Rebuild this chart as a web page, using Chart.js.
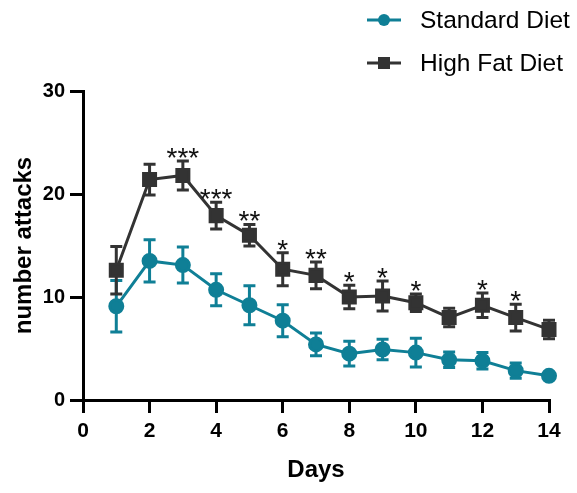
<!DOCTYPE html>
<html>
<head>
<meta charset="utf-8">
<script src="https://cdn.jsdelivr.net/npm/chart.js@4"></script>
<style>
  html, body { margin: 0; padding: 0; background: #fff; }
  #wrap { width: 577px; height: 493px; }
</style>
</head>
<body>
<div id="wrap"><canvas id="chart" width="577" height="493"></canvas></div>
<script>
var days = [1, 2, 3, 4, 5, 6, 7, 8, 9, 10, 11, 12, 13, 14];
var standardMean = [9.1, 13.5, 13.1, 10.7, 9.2, 7.7, 5.4, 4.5, 4.9, 4.6, 3.9, 3.8, 2.85, 2.35];
var standardErr = [2.5, 2.05, 1.75, 1.55, 1.9, 1.55, 1.1, 1.2, 1.0, 1.4, 0.75, 0.8, 0.75, 0.3];
var highFatMean = [12.6, 21.4, 21.8, 17.9, 16.0, 12.7, 12.1, 10.0, 10.1, 9.45, 8.0, 9.2, 8.0, 6.85];
var highFatErr = [2.3, 1.5, 1.4, 1.3, 1.05, 1.6, 1.3, 1.15, 1.45, 0.85, 0.9, 1.2, 1.3, 0.9];
var stars = ['', '', '***', '***', '**', '*', '**', '*', '*', '*', '', '*', '*', ''];
var yTicks = [0, 10, 20, 30];

var teal = '#0f7f96';
var dark = '#333333';
var FONT = '"Liberation Sans", Arial, sans-serif';

function toPoints(means) {
  return days.map(function (d, i) { return { x: d, y: means[i] }; });
}

// error bars, significance stars and legend
var errorBars = {
  id: 'errorBars',
  beforeDatasetsDraw: function (chart) {
    var ctx = chart.ctx;
    var xs = chart.scales.x, ys = chart.scales.y;
    var errs = [standardErr, highFatErr];
    chart.data.datasets.forEach(function (ds, k) {
      ctx.save();
      ctx.strokeStyle = ds.borderColor;
      ctx.lineWidth = 3;
      ds.data.forEach(function (p, i) {
        var x = xs.getPixelForValue(p.x);
        var top = ys.getPixelForValue(p.y + errs[k][i]);
        var bot = ys.getPixelForValue(p.y - errs[k][i]);
        ctx.beginPath();
        ctx.moveTo(x, top); ctx.lineTo(x, bot);
        ctx.moveTo(x - 6, top); ctx.lineTo(x + 6, top);
        ctx.moveTo(x - 6, bot); ctx.lineTo(x + 6, bot);
        ctx.stroke();
      });
      ctx.restore();
    });
  },
  afterDatasetsDraw: function (chart) {
    var ctx = chart.ctx;
    var xs = chart.scales.x, ys = chart.scales.y;
    ctx.save();
    ctx.fillStyle = '#111';
    ctx.font = '28px ' + FONT;
    ctx.textAlign = 'center';
    ctx.textBaseline = 'alphabetic';
    days.forEach(function (d, i) {
      if (!stars[i]) return;
      var x = xs.getPixelForValue(d);
      var top = ys.getPixelForValue(highFatMean[i] + highFatErr[i]);
      ctx.fillText(stars[i], x, top + 6);
    });
    ctx.restore();
  },
  afterDraw: function (chart) {
    var ctx = chart.ctx;
    var items = [
      { label: 'Standard Diet', color: teal, shape: 'circle', y: 20 },
      { label: 'High Fat Diet', color: dark, shape: 'rect', y: 63 }
    ];
    ctx.save();
    items.forEach(function (it) {
      ctx.strokeStyle = it.color;
      ctx.fillStyle = it.color;
      ctx.lineWidth = 3;
      ctx.beginPath();
      ctx.moveTo(367, it.y); ctx.lineTo(401, it.y);
      ctx.stroke();
      ctx.beginPath();
      if (it.shape === 'circle') {
        ctx.arc(384, it.y, 6, 0, Math.PI * 2);
      } else {
        ctx.rect(378, it.y - 6, 12, 12);
      }
      ctx.fill();
      ctx.fillStyle = '#000';
      ctx.font = '24.5px ' + FONT;
      ctx.textAlign = 'left';
      ctx.textBaseline = 'middle';
      ctx.fillText(it.label, 420, it.y + 1);
    });
    ctx.restore();
  }
};

var axisCommon = {
  border: { display: true, color: '#000', width: 3 },
  grid: { drawOnChartArea: false, drawTicks: true, tickLength: 13, color: '#000', lineWidth: 3 }
};

var myChart = new Chart(document.getElementById('chart').getContext('2d'), {
  type: 'line',
  data: {
    datasets: [{
      label: 'Standard Diet',
      data: toPoints(standardMean),
      borderColor: teal,
      backgroundColor: teal,
      borderWidth: 3,
      pointStyle: 'circle',
      pointRadius: 6.5,
      pointHoverRadius: 6.5,
      tension: 0,
      clip: false
    }, {
      label: 'High Fat Diet',
      data: toPoints(highFatMean),
      borderColor: dark,
      backgroundColor: dark,
      borderWidth: 3,
      pointStyle: 'rect',
      pointRadius: 8.5,
      pointHoverRadius: 8.5,
      tension: 0,
      clip: false
    }]
  },
  options: {
    responsive: false,
    animation: false,
    events: [],
    layout: { padding: { top: 91, right: 28, left: 0, bottom: 0 } },
    plugins: { legend: { display: false }, tooltip: { enabled: false } },
    scales: {
      x: Object.assign({
        type: 'linear',
        min: 0,
        max: 14,
        ticks: { stepSize: 2, color: '#000', padding: 6, font: { family: FONT, size: 21, weight: 'bold' } },
        title: { display: true, text: 'Days', color: '#000', padding: { top: 0, bottom: 8 }, font: { family: FONT, size: 24, weight: 'bold' } },
        afterFit: function (s) { s.height = 93; }
      }, axisCommon),
      y: Object.assign({
        type: 'linear',
        min: 0,
        max: 30,
        afterBuildTicks: function (s) { s.ticks = yTicks.map(function (v) { return { value: v }; }); },
        ticks: { color: '#000', padding: 5, font: { family: FONT, size: 20, weight: 'bold' } },
        title: { display: true, text: 'number attacks', color: '#000', padding: { top: 10, bottom: 0 }, font: { family: FONT, size: 24, weight: 'bold' } },
        afterFit: function (s) { s.width = 83; }
      }, axisCommon)
    }
  },
  plugins: [errorBars]
});
</script>
</body>
</html>
